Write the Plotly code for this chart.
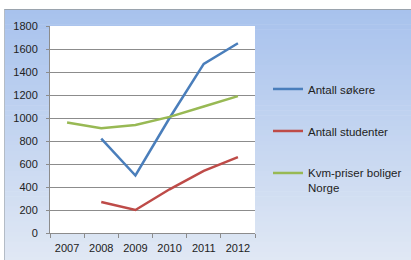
import plotly.graph_objects as go

years = ["2007", "2008", "2009", "2010", "2011", "2012"]
antall_sokere = [None, 820, 500, 1000, 1470, 1650]
antall_studenter = [None, 270, 200, 380, 540, 660]
kvm_priser = [960, 910, 940, 1010, 1100, 1190]
y_ticks = [0, 200, 400, 600, 800, 1000, 1200, 1400, 1600, 1800]

series_names = ["Antall søkere", "Antall studenter", "Kvm-priser boliger<br>Norge"]
series_colors = ["#4A7EBB", "#BE4B48", "#98B954"]

W, H = 411, 260
L, R, T, B = 50, 255, 26, 233


def xp(px):
    return (px - L) / (R - L)


def yp(py):
    return (B - py) / (B - T)


fig = go.Figure()
for name, vals, col in zip(series_names, [antall_sokere, antall_studenter, kvm_priser], series_colors):
    fig.add_trace(go.Scatter(
        x=years, y=vals, name=name, mode="lines",
        line=dict(color=col, width=2.5),
        legendgroup=name,
    ))

shapes = []
# gradient background
top_c = (168, 194, 237)
bot_c = (224, 232, 244)
n = 50
y_start, y_end = 9, 262
for i in range(n):
    f = i / (n - 1)
    c = tuple(int(round(top_c[k] + (bot_c[k] - top_c[k]) * f)) for k in range(3))
    py0 = y_start + (y_end - y_start) * i / n
    py1 = y_start + (y_end - y_start) * (i + 1) / n + 0.6
    shapes.append(dict(type="rect", xref="paper", yref="paper", layer="below",
                       x0=xp(4), x1=xp(W + 2), y0=yp(py1), y1=yp(py0),
                       line=dict(width=0), fillcolor="rgb(%d,%d,%d)" % c))
# borders
shapes.append(dict(type="line", xref="paper", yref="paper", layer="below",
                   x0=xp(4), x1=xp(W + 2), y0=yp(9.5), y1=yp(9.5),
                   line=dict(color="#9aa3ad", width=1)))
shapes.append(dict(type="line", xref="paper", yref="paper", layer="below",
                   x0=xp(4.5), x1=xp(4.5), y0=yp(9.5), y1=yp(H + 2),
                   line=dict(color="#b4bcc6", width=1)))
# white plot area
shapes.append(dict(type="rect", xref="paper", yref="paper", layer="below",
                   x0=0, x1=1, y0=0, y1=1, line=dict(width=0), fillcolor="white"))

fig.update_layout(
    width=W, height=H,
    margin=dict(l=L, r=W - R, t=T, b=H - B, pad=0, autoexpand=False),
    paper_bgcolor="white",
    plot_bgcolor="rgba(0,0,0,0)",
    font=dict(family="Liberation Sans, Arial, sans-serif", size=11, color="#222222"),
    shapes=shapes,
    showlegend=True,
    legend=dict(
        x=xp(268), xanchor="left", y=yp(75), yanchor="top",
        bgcolor="rgba(0,0,0,0)", borderwidth=0,
        font=dict(family="Liberation Sans, Arial, sans-serif", size=11.5, color="#222222"),
        tracegroupgap=23, valign="top", itemwidth=30,
    ),
    xaxis=dict(
        type="category", range=[-0.5, 5.5], showgrid=False,
        showline=True, linecolor="#8c8c8c", linewidth=1,
        ticks="outside", tickson="boundaries", ticklen=4, tickcolor="#8c8c8c",
        tickfont=dict(size=11, color="#222222"), fixedrange=True,
        ticklabelstandoff=5, tickangle=0, automargin=False,
    ),
    yaxis=dict(
        range=[0, 1800], tickvals=y_ticks, showgrid=True, gridcolor="#8c8c8c", gridwidth=1,
        showline=True, linecolor="#8c8c8c", linewidth=1,
        ticks="outside", ticklen=3, tickcolor="#8c8c8c",
        tickfont=dict(size=11, color="#222222"), zeroline=False,
        ticklabelstandoff=6, automargin=False,
    ),
)

fig.write_html("out.html", config={"displayModeBar": False},
               post_script="document.body.style.margin='0';")
